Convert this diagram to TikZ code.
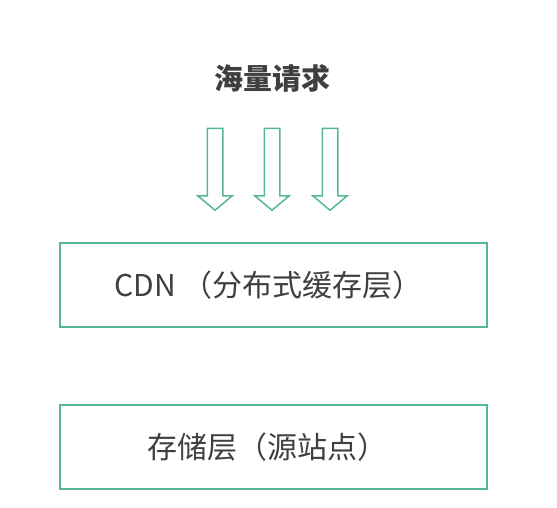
\documentclass[tikz,border=0pt]{standalone}
\usepackage{fontspec}
\setmainfont{Noto Sans CJK SC}
\usepackage{tikz}
\usetikzlibrary{shapes.arrows}
\definecolor{layergreen}{HTML}{55B891}
\definecolor{textgray}{HTML}{3F3F3F}

\begin{document}
\begin{tikzpicture}
  [
    x=1pt, y=-1pt,
    layer/.style =
      {draw=layergreen, line width=2pt, rectangle, minimum width=427pt,
       minimum height=84pt, text=textgray, font=\fontsize{30}{34}\selectfont},
    downarrow/.style =
      {draw=layergreen, line width=1.5pt, single arrow, shape border rotate=270,
       inner sep=7pt, minimum height=82pt, single arrow head extend=9.5pt,
       single arrow tip angle=100, single arrow head indent=0pt}
  ]
  \useasboundingbox (0,0) rectangle (557,507);

  \node [text=textgray, font=\bfseries\fontsize{29}{32}\selectfont]
    at (272,78) (req) {海量请求};

  \node [downarrow] at (215,166) (a1) {};
  \node [downarrow] at (272,166) (a2) {};
  \node [downarrow] at (330,166) (a3) {};

  \node [layer] at (273.5,285) (cdn) {CDN （分布式缓存层）\hspace*{10pt}};
  \node [layer] at (273.5,447) (src) {存储层（源站点）\hspace*{12pt}};

\end{tikzpicture}
\end{document}
